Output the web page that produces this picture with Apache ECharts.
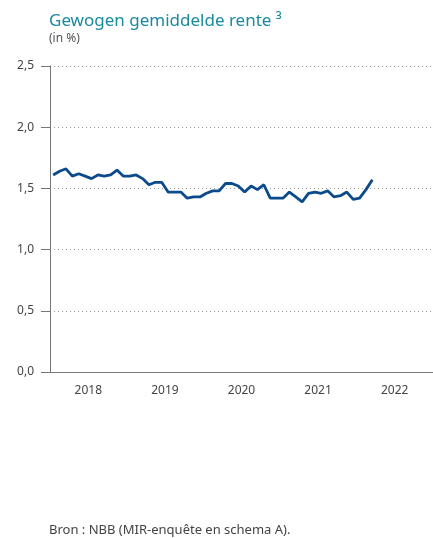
<!DOCTYPE html>
<html lang="nl">
<head>
    <meta charset="UTF-8">
    <title>Gewogen gemiddelde rente</title>
    <script src="https://cdn.jsdelivr.net/npm/echarts@6/dist/echarts.min.js"></script>
    <style>
        body { margin: 0; background: #fff; }
        #main { width: 433px; height: 538px; }
    </style>
</head>
<body>
    <div id="main"></div>
<script>
// jaren op de x-as
var years = ['2018', '2019', '2020', '2021', '2022'];
// maandelijkse rente (in %), jan 2018 - mrt 2022
var rate2018 = [1.61, 1.64, 1.66, 1.60, 1.62, 1.60, 1.58, 1.61, 1.60, 1.61, 1.65, 1.60];
var rate2019 = [1.60, 1.61, 1.58, 1.53, 1.55, 1.55, 1.47, 1.47, 1.47, 1.42, 1.43, 1.43];
var rate2020 = [1.46, 1.48, 1.48, 1.54, 1.54, 1.52, 1.47, 1.52, 1.49, 1.53, 1.42, 1.42];
var rate2021 = [1.42, 1.47, 1.43, 1.39, 1.46, 1.47, 1.46, 1.48, 1.43, 1.44, 1.47, 1.41];
var rate2022 = [1.42, 1.49, 1.57];
var yTicks = [0, 0.5, 1, 1.5, 2, 2.5];

var rates = rate2018.concat(rate2019, rate2020, rate2021, rate2022);
var months = [];
for (var i = 0; i < years.length * 12; i++) {
    months.push(years[Math.floor(i / 12)] + '-' + (i % 12 + 1));
}

var chart = echarts.init(document.getElementById('main'));
var font = '"Noto Sans", "Open Sans", sans-serif';

chart.setOption({
    animation: false,
    textStyle: { fontFamily: font },
    title: [
        {
            text: 'Gewogen gemiddelde rente ³',
            left: 49, top: 13, padding: 0,
            textStyle: { color: '#1a8a9c', fontSize: 17, fontWeight: 'normal', fontFamily: font }
        },
        {
            text: '(in %)',
            left: 49, top: 33, padding: 0,
            textStyle: { color: '#555', fontSize: 12, fontWeight: 'normal', fontFamily: font }
        },
        {
            text: 'Bron : NBB (MIR-enquête en schema A).',
            left: 49, top: 524, padding: 0,
            textStyle: { color: '#444', fontSize: 13, fontWeight: 'normal', fontFamily: font }
        }
    ],
    grid: { left: 50, top: 66, width: 391.5, height: 306 },
    xAxis: [
        {
            type: 'category',
            data: months,
            boundaryGap: true,
            show: false
        },
        {
            type: 'category',
            data: years,
            position: 'bottom',
            boundaryGap: true,
            axisLine: { lineStyle: { color: '#777', width: 1 } },
            axisTick: { inside: true, length: 9, lineStyle: { color: '#777', width: 1.5 } },
            axisLabel: { color: '#444', fontSize: 12, margin: 13 },
            splitLine: { show: false }
        }
    ],
    yAxis: {
        type: 'value',
        min: yTicks[0],
        max: yTicks[yTicks.length - 1],
        interval: 0.5,
        axisLine: { show: true, lineStyle: { color: '#777', width: 1 } },
        axisTick: { show: true, length: 9, lineStyle: { color: '#777' } },
        axisLabel: {
            color: '#444', fontSize: 12, margin: 16,
            formatter: function (v) { return v.toFixed(1).replace('.', ','); }
        },
        splitLine: { lineStyle: { color: '#999', type: [1, 3], width: 1 } }
    },
    series: [
        {
            type: 'line',
            xAxisIndex: 0,
            data: rates,
            symbol: 'none',
            lineStyle: { color: '#0b4a8b', width: 2.8 }
        }
    ]
});
</script>
</body>
</html>
